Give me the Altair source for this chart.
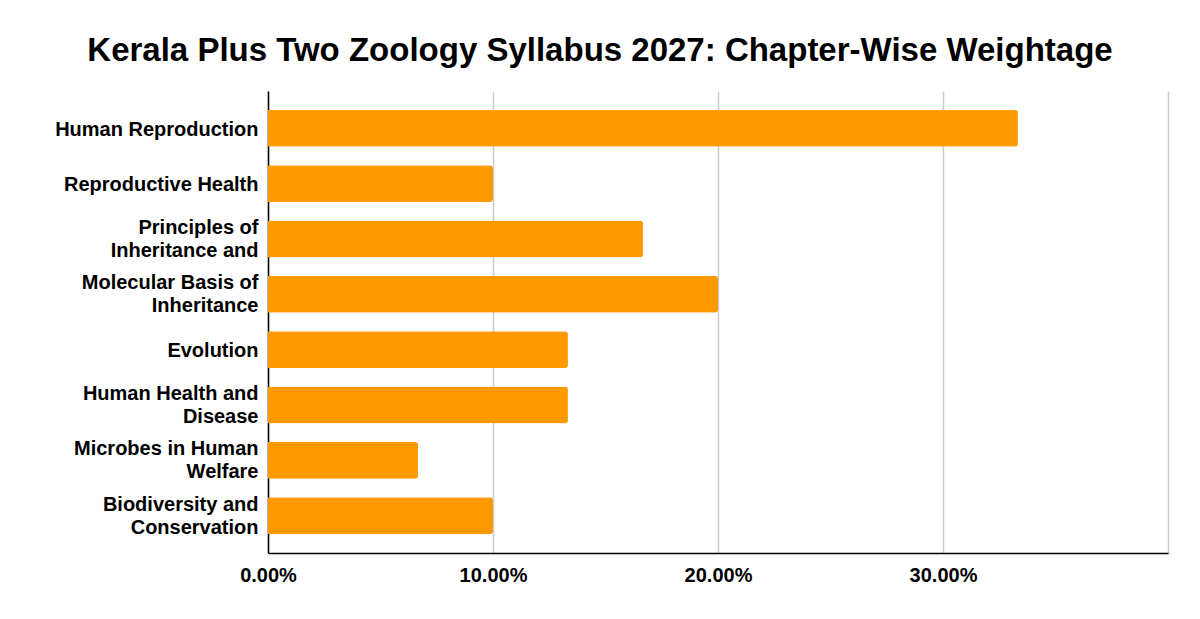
"""Chapter-wise weightage bar chart for Kerala Plus Two Zoology."""

import altair as alt
import pandas as pd

BAR_COLOUR = '#FF9900'
FONT = 'Liberation Sans'

CHAPTERS = [
    'Human Reproduction',
    'Reproductive Health',
    'Principles of|Inheritance and',
    'Molecular Basis of|Inheritance',
    'Evolution',
    'Human Health and|Disease',
    'Microbes in Human|Welfare',
    'Biodiversity and|Conservation',
]
WEIGHTAGE = [0.3333, 0.10, 0.1667, 0.20, 0.1333, 0.1333, 0.0667, 0.10]

data = pd.DataFrame({'chapter': CHAPTERS, 'weightage': WEIGHTAGE})

# two-line labels are drawn from the middle down, so lift them half a line
two_line_lift = {'condition': {'test': "indexof(datum.value, '|') >= 0", 'value': -11}, 'value': 1.5}

chart = alt.Chart(data).mark_bar(
    color=BAR_COLOUR,
    cornerRadiusTopRight=3,
    cornerRadiusBottomRight=3,
).encode(
    x=alt.X('weightage:Q', title=None,
            scale=alt.Scale(domain=[0, 0.4], nice=False),
            axis=alt.Axis(values=[0, 0.1, 0.2, 0.3, 0.4], format='.2%',
                          labelExpr="datum.value >= 0.4 ? '' : datum.label",
                          grid=True, gridColor='#cccccc', gridWidth=1.5,
                          domainColor='#000000', domainWidth=1.5, ticks=False,
                          labelFont=FONT, labelFontSize=20, labelFontWeight='bold',
                          labelColor='#000000', labelPadding=12, labelFlush=False)),
    y=alt.Y('chapter:N', title=None, sort=CHAPTERS,
            scale=alt.Scale(paddingInner=0.333, paddingOuter=0.34),
            axis=alt.Axis(labelExpr="split(datum.label, '|')",
                          labelOffset=two_line_lift,
                          domainColor='#000000', domainWidth=1.5, ticks=False,
                          labelFont=FONT, labelFontSize=20, labelFontWeight='bold',
                          labelColor='#000000', labelPadding=10, labelLineHeight=23,
                          labelLimit=300)),
).properties(
    width=900,
    height=462,
    padding={'left': 260, 'top': 83, 'right': 24, 'bottom': 58},
    autosize=alt.AutoSizeParams(type='none'),
    title=alt.TitleParams(
        'Kerala Plus Two Zoology Syllabus 2027: Chapter-Wise Weightage',
        font=FONT, fontSize=33, fontWeight='bold', color='#000000',
        anchor='middle', dx=-118, offset=23,
    ),
).configure_view(stroke=None)

chart.save("out.html", embed_options={"renderer": "svg", "actions": False})
